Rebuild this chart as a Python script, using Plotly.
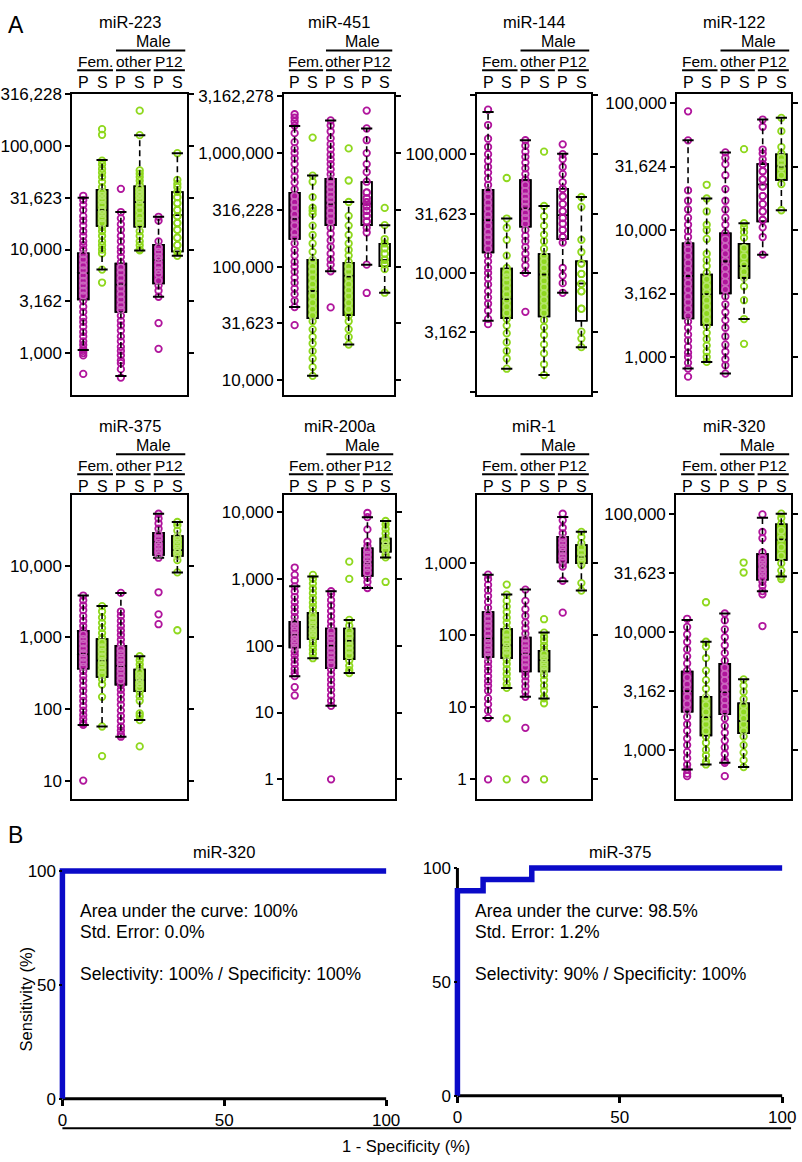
import plotly.graph_objects as go

MAG = '#B0159C'
GRN = '#8FD81E'
BLUE = '#0A0AC8'
FONT = 'Liberation Sans, Arial, Helvetica, sans-serif'
W, H = 802, 1162

#%% data -------------------------------------------------------------
# groups in every panel: Fem. P, Fem. S, Male other P, Male other S, Male P12 P, Male P12 S
groups = ['P', 'S', 'P', 'S', 'P', 'S']

# box stats per group: (lower whisker, q1, median, q3, upper whisker)
mir223_box = [(1070, 3300, 5900, 9200, 31600), (6400, 16900, 23900, 37700, 73000),
              (600, 2500, 4600, 7300, 23000), (9800, 16600, 28800, 40800, 127000),
              (3500, 4700, 7950, 11100, 20700), (8700, 9570, 21400, 35800, 85000)]
mir223_pts = [
    [33000, 30000, 27000, 24000, 21000, 19000, 17000, 15000, 13500, 12000, 11000, 10000, 9000, 8000,
     7000, 6300, 5600, 5000, 4500, 4000, 3600, 3200, 2800, 2500, 2200, 2000, 1800, 1600, 1450, 1300,
     1200, 1100, 1050, 1000, 950, 630],
    [145000, 128000, 72000, 66000, 60000, 55000, 50000, 45000, 40000, 36000, 33000, 30000, 27000,
     24000, 22000, 20000, 18000, 16500, 15000, 13500, 12000, 11000, 10000, 9200, 6400, 4800],
    [38500, 23000, 20000, 17500, 15500, 13500, 12000, 10500, 9500, 8500, 7500, 6700, 6000, 5300,
     4700, 4200, 3700, 3300, 2900, 2600, 2300, 2050, 1850, 1650, 1450, 1300, 1150, 1050, 950, 850,
     800, 700, 580],
    [219000, 127000, 58000, 54000, 50000, 46000, 42000, 39000, 36000, 33000, 30000, 27000, 24000,
     21000, 19000, 17000, 15000, 13500, 12000, 11000, 10000, 9800],
    [20700, 19000, 12000, 10500, 9500, 8500, 7900, 7000, 6300, 5800, 5000, 4500, 4000, 3500, 1950, 1100],
    [85000, 47000, 43000, 40000, 36000, 32000, 28000, 24000, 21000, 18000, 15500, 13000, 11000, 9500, 8700],
]
mir223_ticks = [1000, 3162, 10000, 31623, 100000, 316228]
mir223_labels = ['1,000', '3,162', '10,000', '31,623', '100,000', '316,228']

mir451_box = [(44000, 175000, 265000, 448000, 1730000), (10900, 35200, 61000, 115000, 634000),
              (91000, 232000, 359000, 593000, 1940000), (20600, 37400, 82000, 108000, 371000),
              (104000, 232000, 359000, 555000, 1650000), (58900, 101000, 114000, 159000, 232000)]
mir451_pts = [
    [2200000, 2050000, 1900000, 1750000, 1500000, 1250000, 1100000, 1000000, 900000, 800000, 700000,
     620000, 550000, 480000, 420000, 370000, 330000, 290000, 260000, 230000, 200000, 180000, 160000,
     140000, 125000, 110000, 100000, 90000, 80000, 72000, 64000, 57000, 50000, 44000, 30500],
    [1370000, 634000, 560000, 410000, 330000, 310000, 290000, 230000, 190000, 160000, 135000, 115000,
     100000, 90000, 80000, 70000, 62000, 55000, 48000, 42000, 37000, 33000, 28000, 24000, 21000,
     18000, 15500, 13000, 10900],
    [1940000, 1750000, 1550000, 1350000, 1200000, 1080000, 970000, 880000, 800000, 720000, 650000,
     590000, 530000, 480000, 430000, 390000, 350000, 310000, 280000, 250000, 220000, 195000, 170000,
     150000, 130000, 115000, 104000, 91000, 43700],
    [1100000, 574000, 371000, 280000, 230000, 190000, 160000, 140000, 125000, 110000, 100000, 90000,
     80000, 70000, 62000, 55000, 48000, 42000, 37000, 33000, 28000, 24000, 20600],
    [2370000, 1650000, 1300000, 1000000, 800000, 680000, 560000, 450000, 400000, 370000, 340000,
     310000, 280000, 250000, 220000, 200000, 104000, 58600],
    [329000, 232000, 175000, 160000, 145000, 130000, 115000, 105000, 95000, 58900],
]
mir451_ticks = [10000, 31623, 100000, 316228, 1000000, 3162278]
mir451_labels = ['10,000', '31,623', '100,000', '316,228', '1,000,000', '3,162,278']

mir144_box = [(3950, 14900, 27800, 50100, 227000), (1560, 4160, 6000, 10900, 28700),
              (10000, 24500, 34800, 60700, 131000), (1380, 4300, 9690, 14400, 36600),
              (6810, 19300, 30600, 51100, 101000), (2370, 3960, 8150, 12500, 43600)]
mir144_pts = [
    [237000, 176000, 135000, 115000, 100000, 88000, 78000, 70000, 62000, 55000, 49000, 44000, 39000,
     35000, 31000, 28000, 25000, 22000, 20000, 18000, 16000, 14000, 12500, 11000, 10000, 9000, 8000,
     7000, 6200, 5500, 4800, 4100, 3700],
    [63000, 28700, 24000, 19000, 14000, 11000, 10000, 9200, 8300, 7400, 6600, 5900, 5200, 4600, 4100,
     3600, 3100, 2600, 2200, 1900, 1560],
    [131000, 118000, 105000, 95000, 85000, 76000, 68000, 61000, 55000, 49000, 44000, 40000, 36000,
     32000, 29000, 26000, 23000, 20500, 18500, 16500, 14500, 13000, 11500, 10000, 4700],
    [105000, 36600, 30000, 25000, 21000, 18500, 16000, 14000, 12500, 11000, 9700, 8600, 7600, 6700,
     5900, 5200, 4600, 4000, 3500, 3000, 2500, 2100, 1700, 1380],
    [121000, 100000, 91000, 78000, 68000, 58000, 51000, 44000, 38000, 33000, 29000, 26000, 23000,
     20000, 18000, 11000, 9500, 8200, 6800],
    [43600, 36000, 19000, 15000, 12000, 9800, 8100, 7000, 5000, 3200, 2800, 2370],
]
mir144_ticks = [1000, 3162, 10000, 31623, 100000, 316228]
mir144_labels = ['', '3,162', '10,000', '31,623', '100,000', '']

mir122_box = [(810, 2010, 4330, 7870, 50800), (915, 1790, 3120, 4460, 17700),
              (740, 3170, 5660, 9420, 40800), (1990, 4200, 5180, 7790, 11300),
              (6380, 11700, 22800, 33000, 74100), (14300, 24800, 31600, 39500, 76400)]
mir122_pts = [
    [86000, 50800, 20500, 17000, 14500, 12500, 11000, 9800, 8800, 7800, 7000, 6200, 5500, 4900, 4300,
     3800, 3400, 3000, 2700, 2400, 2100, 1900, 1700, 1500, 1350, 1200, 1080, 1000, 900, 810, 700],
    [22700, 17700, 14000, 11000, 10000, 8500, 6500, 5800, 5200, 4600, 4100, 3600, 3200, 2800, 2500,
     2200, 1950, 1750, 1550, 1380, 1230, 1100, 1000, 915],
    [40800, 37000, 33000, 27000, 21000, 17000, 14500, 12500, 11000, 9500, 8400, 7400, 6500, 5700,
     5000, 4400, 3900, 3400, 3000, 2600, 2250, 1950, 1700, 1450, 1250, 1100, 960, 860, 740],
    [43300, 11300, 10500, 9600, 8700, 7200, 6200, 5300, 4700, 4200, 3600, 2800, 1990, 1270],
    [74100, 65000, 43000, 40000, 36000, 33000, 29000, 25000, 22000, 18500, 16000, 14000, 12000,
     10500, 8800, 6400],
    [76400, 60000, 45000, 40000, 37000, 34000, 31000, 27000, 23000, 14300],
]
mir122_ticks = [1000, 3162, 10000, 31624, 100000]
mir122_labels = ['1,000', '3,162', '10,000', '31,624', '100,000']

mir375_box = [(60, 365, 590, 1240, 3850), (57, 280, 475, 950, 2740), (41, 219, 397, 767, 4190),
              (70, 177, 252, 357, 546), (13000, 14200, 21700, 28900, 53500),
              (8090, 13700, 16600, 26000, 41000)]
mir375_pts = [
    [3850, 3300, 2800, 2400, 2000, 1700, 1450, 1250, 1100, 950, 820, 700, 600, 520, 450, 390, 340,
     290, 250, 210, 180, 150, 130, 110, 95, 82, 72, 63, 60, 10],
    [2740, 2300, 1900, 1600, 1350, 1150, 980, 850, 730, 630, 540, 470, 410, 350, 300, 260, 220, 148,
     57, 22],
    [4190, 2300, 2000, 1700, 1450, 1250, 1080, 930, 800, 690, 600, 520, 450, 390, 340, 290, 250, 215,
     185, 160, 135, 115, 95, 80, 68, 57, 50, 44, 41],
    [546, 480, 420, 370, 330, 290, 255, 225, 200, 175, 150, 130, 87, 80, 70, 30],
    [53500, 46000, 39000, 33000, 28000, 24000, 21000, 18500, 16000, 14200, 13000, 4270, 2100, 1530],
    [41000, 37000, 31000, 26000, 23000, 20000, 17500, 15500, 13700, 12000, 8100, 1260],
]
mir375_ticks = [10, 100, 1000, 10000]
mir375_labels = ['10', '100', '1,000', '10,000']

mir200a_box = [(35, 94, 144, 227, 774), (65, 126, 187, 312, 1090), (12.6, 46, 100, 181, 653),
               (39, 63, 119, 181, 243), (731, 1110, 1750, 2870, 8400), (2100, 2550, 3400, 4030, 7360)]
mir200a_pts = [
    [1480, 1150, 950, 774, 650, 540, 450, 380, 320, 270, 227, 195, 170, 144, 125, 110, 94, 82, 72,
     62, 53, 45, 39, 35, 24, 18],
    [1150, 1000, 850, 720, 610, 520, 440, 380, 320, 280, 240, 205, 180, 155, 135, 115, 100, 88, 76, 65],
    [653, 590, 480, 400, 330, 275, 230, 195, 165, 140, 120, 100, 85, 72, 61, 52, 44, 37, 31, 26, 22,
     18, 15, 12.6, 1],
    [1810, 1000, 243, 200, 165, 140, 118, 100, 85, 72, 60, 50, 43, 39],
    [9700, 8400, 5500, 3600, 3100, 2700, 2300, 1950, 1700, 1450, 1250, 1050, 900, 731],
    [7360, 6500, 5600, 4800, 4100, 3600, 3200, 2700, 2300, 2100, 900],
]
mir200a_ticks = [1, 10, 100, 1000, 10000]
mir200a_labels = ['1', '10', '100', '1,000', '10,000']

mir1_box = [(7.1, 50, 90, 210, 692), (18.6, 48, 72, 122, 367), (14, 31.5, 55, 93, 430),
            (13.3, 31.5, 45, 61, 109), (560, 1020, 1450, 2320, 4370), (417, 1000, 1240, 1790, 2720)]
mir1_pts = [
    [692, 600, 500, 420, 350, 290, 240, 200, 170, 145, 125, 105, 90, 78, 67, 58, 50, 43, 37, 32, 27,
     23, 20, 17, 13.3, 11, 9, 7.1, 1],
    [505, 367, 300, 250, 210, 175, 150, 125, 108, 93, 80, 70, 61, 53, 46, 40, 34, 29, 25, 21, 18.6, 7, 1],
    [430, 300, 230, 185, 150, 125, 105, 90, 77, 66, 57, 49, 42, 36, 31, 27, 23, 19.5, 16.5, 14, 5.2, 1],
    [167, 109, 95, 83, 72, 63, 55, 48, 42, 37, 32, 28, 24, 20, 17, 14, 13.3, 11.4, 1],
    [4850, 3930, 3100, 2600, 2200, 1900, 1650, 1450, 1250, 1100, 1000, 900, 571, 206],
    [2720, 2300, 1900, 1650, 1400, 1200, 1050, 950, 530, 417],
]
mir1_ticks = [1, 10, 100, 1000]
mir1_labels = ['1', '10', '100', '1,000']

mir320_box = [(684, 2110, 3140, 4620, 12600), (754, 1330, 1890, 2820, 8240),
              (778, 2010, 3100, 5360, 14300), (716, 1390, 1760, 2480, 3960),
              (22100, 27600, 35700, 45600, 92500), (29400, 40700, 60500, 81500, 100000)]
mir320_pts = [
    [12900, 11000, 9500, 8200, 7100, 6200, 5400, 4700, 4100, 3600, 3200, 2800, 2450, 2150, 1900,
     1650, 1450, 1250, 1100, 960, 850, 750, 684, 630, 600],
    [17800, 8240, 7500, 6000, 4700, 3900, 3300, 2800, 2400, 2100, 1850, 1650, 1450, 1300, 1150, 1000,
     900, 800, 754],
    [14300, 12500, 10500, 9000, 7700, 6600, 5700, 5000, 4400, 3900, 3400, 3000, 2650, 2350, 2100,
     1850, 1600, 1400, 1200, 1050, 920, 810, 778, 600],
    [38600, 31800, 3960, 3500, 3100, 2700, 2400, 2100, 1850, 1650, 1450, 1300, 1100, 950, 820, 716],
    [98700, 70000, 62000, 47000, 42000, 39000, 36000, 33500, 31000, 28500, 26500, 24500, 22100,
     20800, 11200],
    [100000, 92000, 82000, 72000, 62000, 52000, 44000, 38000, 33000, 29400, 28000],
]
mir320_ticks = [1000, 3162, 10000, 31623, 100000]
mir320_labels = ['1,000', '3,162', '10,000', '31,623', '100,000']

# ROC curves (1 - specificity, sensitivity), in %
roc320_x = [0, 0, 100]
roc320_y = [0, 100, 100]
roc375_x = [0, 0, 7.9, 7.9, 22.9, 22.9, 100]
roc375_y = [0, 90, 90, 95, 95, 100, 100]
roc_ticks = [0, 50, 100]


#%% layout helpers --------------------------------------------------
def fx(px):
    return px / W


def fy(py):
    return 1 - py / H


# name, points, boxes, ticks, labels, left px, right px, row, log range, white boxes
panels = [
    ('miR-223', mir223_pts, mir223_box, mir223_ticks, mir223_labels, 69, 185, 0, [2.596, 5.5], [5]),
    ('miR-451', mir451_pts, mir451_box, mir451_ticks, mir451_labels, 283, 394, 0, [3.869, 6.52], [4, 5]),
    ('miR-144', mir144_pts, mir144_box, mir144_ticks, mir144_labels, 478, 593, 0, [2.972, 5.506], [4, 5]),
    ('miR-122', mir122_pts, mir122_box, mir122_ticks, mir122_labels, 680, 795, 0, [2.701, 5.07], [4]),
    ('miR-375', mir375_pts, mir375_box, mir375_ticks, mir375_labels, 69, 185, 1, [0.746, 4.991], []),
    ('miR-200a', mir200a_pts, mir200a_box, mir200a_ticks, mir200a_labels, 283, 395, 1, [-0.291, 4.257], []),
    ('miR-1', mir1_pts, mir1_box, mir1_ticks, mir1_labels, 478, 593, 1, [-0.268, 3.947], []),
    ('miR-320', mir320_pts, mir320_box, mir320_ticks, mir320_labels, 679, 795, 1, [2.587, 5.159], []),
]
rows = [(86, 390, 0), (491, 798, 408)]
XR = [0.42, 6.52]

fig = go.Figure()
layout = {}
annotations = []
shapes = []
tickfont = dict(family=FONT, size=17, color='black')


def text(x, y, s, size=15.5, xref='paper', xanchor='center', angle=0):
    annotations.append(dict(x=x, y=y, xref=xref, yref='paper', text=s, showarrow=False,
                            xanchor=xanchor, yanchor='middle', textangle=angle,
                            font=dict(family=FONT, size=size, color='black')))


def hline(x0, x1, y, xref, width=2):
    shapes.append(dict(type='line', xref=xref, yref='paper', x0=x0, x1=x1, y0=y, y1=y,
                       line=dict(color='black', width=width)))


for k, (name, pts, box, tv, tt, left, right, row, yr, white) in enumerate(panels, start=1):
    xa, ya = 'x%d' % k, 'y%d' % k
    top, bot, off = rows[row]
    layout['xaxis%d' % k] = dict(domain=[fx(left), fx(right)], range=XR, anchor=ya,
                                 showline=True, mirror=True, linewidth=2, linecolor='black',
                                 ticks='', showticklabels=False, showgrid=False, zeroline=False)
    layout['yaxis%d' % k] = dict(domain=[fy(bot), fy(top)], type='log', range=yr, anchor=xa,
                                 showline=True, mirror='ticks', linewidth=2, linecolor='black',
                                 ticks='outside', ticklen=5, tickwidth=1.5, tickcolor='black',
                                 tickvals=tv, ticktext=tt, tickfont=tickfont,
                                 showgrid=False, zeroline=False)

    # header texts
    text(fx((left + right) / 2), fy(13 + off), name, size=16.5)
    text(4.75, fy(33 + off), 'Male', xref=xa, size=16)
    hline(2.74, 6.42, fy(42 + off), xa)
    for lab, a, b in [('Fem.', 0.68, 2.58), ('other', 2.74, 4.58), ('P12', 4.74, 6.4)]:
        text((a + b) / 2, fy(53 + off), lab, xref=xa)
        hline(a, b, fy(62 + off), xa)
    for g, lab in enumerate(groups, start=1):
        text(g, fy(74 + off), lab, xref=xa, size=16)

    wx, wy, cx, cy = [], [], [], []
    for g, (vals, b) in enumerate(zip(pts, box), start=1):
        col = MAG if g % 2 else GRN
        lo, q1, med, q3, hi = b
        fig.add_trace(go.Scatter(x=[g] * len(vals), y=vals, mode='markers', xaxis=xa, yaxis=ya,
                                 marker=dict(symbol='circle-open', size=6.5, color=col,
                                             line=dict(width=1.8)), hoverinfo='skip'))
        wx += [g, g, None, g, g, None]
        wy += [q3, hi, None, q1, lo, None]
        cx += [g, g]
        cy += [hi, lo]
    fig.add_trace(go.Scatter(x=wx, y=wy, mode='lines', xaxis=xa, yaxis=ya, hoverinfo='skip',
                             line=dict(color='black', width=1.6, dash='6px,4px')))
    fig.add_trace(go.Scatter(x=cx, y=cy, mode='markers', xaxis=xa, yaxis=ya, hoverinfo='skip',
                             marker=dict(symbol='line-ew', size=8, line=dict(color='black', width=2))))
    for g, (vals, b) in enumerate(zip(pts, box), start=1):
        col = MAG if g % 2 else GRN
        lo, q1, med, q3, hi = b
        is_white = (g - 1) in white
        for fill in (('white' if is_white else col), 'rgba(0,0,0,0)'):
            if fill == 'rgba(0,0,0,0)':
                inside = [v for v in vals if q1 <= v <= q3]
                fig.add_trace(go.Scatter(x=[g] * len(inside), y=inside, mode='markers',
                                         xaxis=xa, yaxis=ya, hoverinfo='skip',
                                         opacity=1 if is_white else 0.35,
                                         marker=dict(symbol='circle-open', size=6.5,
                                                     color=col if is_white else 'white',
                                                     line=dict(width=1.5))))
            fig.add_trace(go.Box(x=[g], q1=[q1], median=[med], q3=[q3], lowerfence=[q1],
                                 upperfence=[q3], width=0.58, whiskerwidth=0, fillcolor=fill,
                                 line=dict(color='black', width=1.6), boxpoints=False,
                                 xaxis=xa, yaxis=ya, hoverinfo='skip'))

#%% ROC panels ------------------------------------------------------
# (title, x, y, px of 0 and 100 on x, py of 0 and 100 on y, text lines)
rocs = [
    ('miR-320', roc320_x, roc320_y, (59, 386), (1101, 871),
     ['Area under the curve: 100%', 'Std. Error: 0.0%', 'Selectivity: 100% / Specificity: 100%']),
    ('miR-375', roc375_x, roc375_y, (458, 786), (1098, 868),
     ['Area under the curve: 98.5%', 'Std. Error: 1.2%', 'Selectivity: 90% / Specificity: 100%']),
]
PAD = 3
for j, (name, rx, ry, (x0p, x100p), (y0p, y100p), lines) in enumerate(rocs):
    k = 9 + j
    xa, ya = 'x%d' % k, 'y%d' % k
    sx = (x100p - x0p) / 100.0
    sy = (y0p - y100p) / 100.0
    layout['xaxis%d' % k] = dict(domain=[fx(x0p - PAD * sx), fx(x100p + PAD * sx)],
                                 range=[-PAD, 100 + PAD], anchor='free', position=fy(y0p),
                                 tickvals=roc_ticks, ticks='outside', ticklen=6, tickwidth=2.5,
                                 tickcolor='black', tickfont=tickfont, showline=False,
                                 showgrid=False, zeroline=False)
    layout['yaxis%d' % k] = dict(domain=[fy(y0p + PAD * sy), fy(y100p - PAD * sy)],
                                 range=[-PAD, 100 + PAD], anchor='free', position=fx(x0p),
                                 tickvals=roc_ticks, ticks='outside', ticklen=3, tickwidth=1.5,
                                 tickcolor='black', tickfont=tickfont, showline=False,
                                 showgrid=False, zeroline=False)
    shapes.append(dict(type='line', xref=xa, yref=ya, x0=0, x1=100, y0=0, y1=0, layer='below',
                       line=dict(color='black', width=3)))
    shapes.append(dict(type='line', xref=xa, yref=ya, x0=0, x1=0, y0=0, y1=100, layer='below',
                       line=dict(color='black', width=3)))
    fig.add_trace(go.Scatter(x=rx, y=ry, mode='lines', xaxis=xa, yaxis=ya, hoverinfo='skip',
                             line=dict(color=BLUE, width=5.5)))
    text(fx((x0p + x100p) / 2), fy(852), name, size=16.5)
    tx = fx(x0p + 16)
    for s, py in zip(lines, [911, 933, 975]):
        text(tx, fy(py), s, size=17.5, xanchor='left')

hline(fx(59), fx(795), fy(1131), 'paper', width=2)
text(fx(406), fy(1149), '1 - Specificity (%)', size=16.5)
text(fx(22), fy(1000), 'Sensitivity (%)', size=16.5, angle=-90)
text(fx(12), fy(16), 'A', size=23)
text(fx(12), fy(835), 'B', size=23)

fig.update_layout(width=W, height=H, margin=dict(l=0, r=0, t=0, b=0), showlegend=False,
                  paper_bgcolor='white', plot_bgcolor='white', boxmode='overlay',
                  annotations=annotations, shapes=shapes, **layout)

# drop the browser's default page margin so the figure sits at the window's corner
fig.write_html("out.html", config={'displayModeBar': False},
               post_script="document.body.style.margin='0';")
